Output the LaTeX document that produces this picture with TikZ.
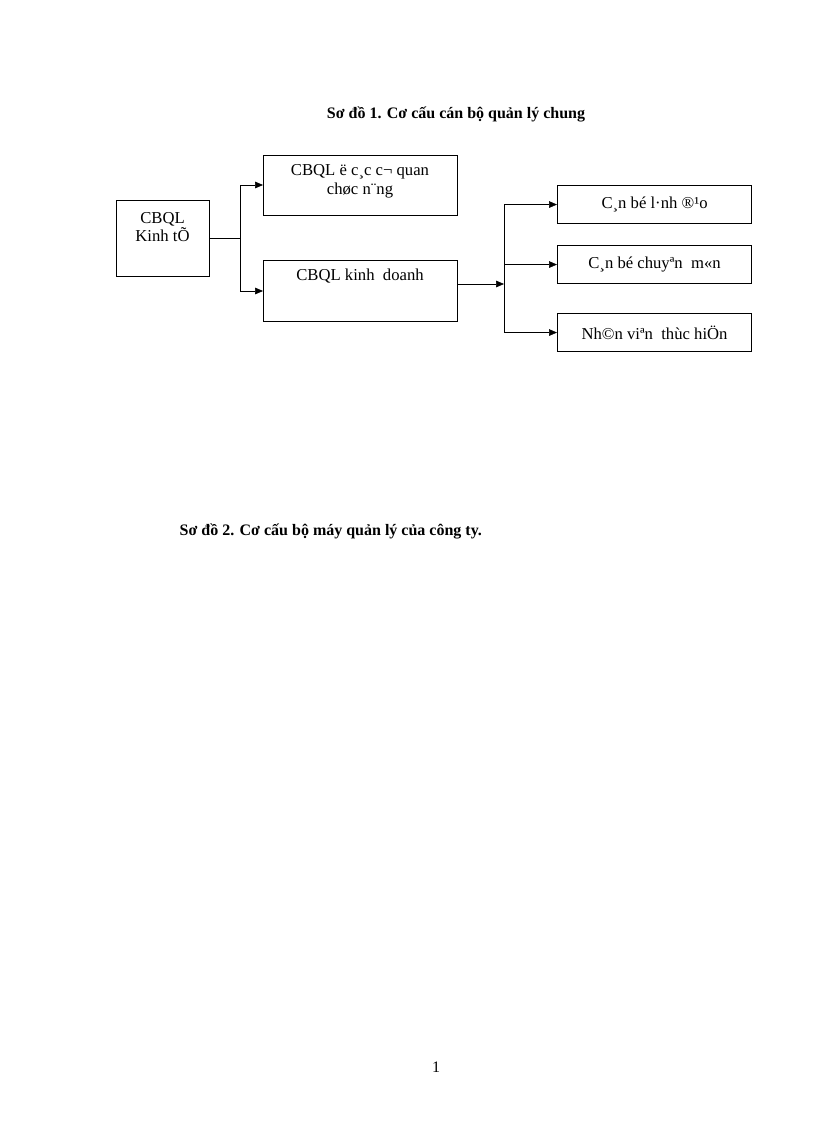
\documentclass[tikz,border=0pt]{standalone}
\usepackage{fontspec}
\setmainfont{Liberation Serif}
\usetikzlibrary{arrows.meta}
\begin{document}
\begin{tikzpicture}[x=0.75pt,y=-0.75pt,
 bx/.style={draw,thick,anchor=north west,inner sep=0pt,font=\fontsize{12.5}{14}\selectfont,align=center},
 ar/.style={-{Triangle[length=6pt,width=5pt]}},
 ln/.style={thin}]
\useasboundingbox (0,0) rectangle (816,1123);
\node[font=\bfseries\fontsize{12}{14}\selectfont] (t1) at (456,114) {Sơ đồ 1. Cơ cấu cán bộ quản lý chung};
\node[font=\bfseries\fontsize{12}{14}\selectfont,anchor=west] (t2) at (175,531) {Sơ đồ 2. Cơ cấu bộ máy quản lý của công ty.};
\node[font=\fontsize{12}{14}\selectfont] (pg) at (436,1067) {1};
\node[bx,minimum width=93*0.75pt,minimum height=76*0.75pt] (a) at (116,200) {};
\node[align=center,font=\fontsize{12.5}{14}\selectfont] at (162.5,227) {CBQL\\Kinh tÕ};
\node[bx,minimum width=194*0.75pt,minimum height=60*0.75pt] (b) at (263,155) {};
\node[align=center,font=\fontsize{12.5}{14}\selectfont] at (360,181) {CBQL ë c¸c c¬ quan\\chøc n¨ng};
\node[bx,minimum width=194*0.75pt,minimum height=61*0.75pt] (c) at (263,260) {};
\node[font=\fontsize{12.5}{14}\selectfont] at (360,276) {CBQL kinh\ \ doanh};
\node[bx,minimum width=194*0.75pt,minimum height=38*0.75pt] (d) at (557,185) {C¸n bé l·nh ®¹o};
\node[bx,minimum width=194*0.75pt,minimum height=38*0.75pt] (e) at (557,245) {C¸n bé chuyªn\ \ m«n};
\node[bx,minimum width=194*0.75pt,minimum height=38*0.75pt] (f) at (557,313) {Nh©n viªn\ \ thùc hiÖn};
\coordinate (j1) at (240,238);
\coordinate (j2) at (504,284);
\draw[ln] (a.east |- j1) -- (j1);
\draw[ln,ar] (j1) |- (b.west |- 0,185);
\draw[ln,ar] (j1) |- (c.west |- 0,291);
\draw[ln,ar] (c.east |- j2) -- (j2);
\draw[ln,ar] (j2) |- (d.west);
\draw[ln,ar] (j2) |- (e.west);
\draw[ln,ar] (j2) |- (f.west);
\end{tikzpicture}
\end{document}
